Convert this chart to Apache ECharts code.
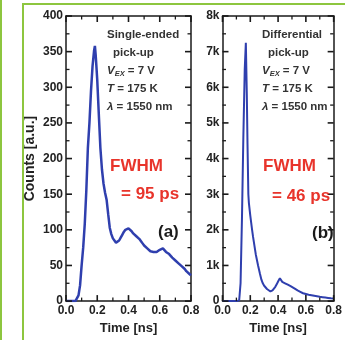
<!DOCTYPE html>
<html><head><meta charset="utf-8">
<script src="https://cdn.jsdelivr.net/npm/echarts@6/dist/echarts.min.js"></script>
<style>html,body{margin:0;padding:0;background:#fff}#c{width:345px;height:340px}</style>
</head><body><div id="c"></div>
<script>
// Panel (a): single-ended pick-up
const timeA = [0.00,0.01,0.02,0.03,0.04,0.05,0.06,0.07,0.08,0.09,0.10,0.11,0.12,0.13,0.14,0.15,0.16,0.17,0.18,0.185,0.19,0.195,0.20,0.21,0.22,0.23,0.24,0.25,0.26,0.27,0.28,0.29,0.30,0.31,0.32,0.33,0.34,0.35,0.36,0.37,0.38,0.39,0.40,0.41,0.42,0.43,0.44,0.45,0.46,0.47,0.48,0.49,0.50,0.51,0.52,0.53,0.54,0.55,0.56,0.57,0.58,0.59,0.60,0.61,0.62,0.63,0.64,0.65,0.66,0.67,0.68,0.69,0.70,0.71,0.72,0.73,0.74,0.75,0.76,0.77,0.78,0.79,0.80];
const countsA = [0,0,0,0,0,0,0,2,8,22,50,75,108,155,215,250,295,330,352,358,345,328,310,262,215,185,165,152,142,122,103,94,88,85,82,82,85,89,93,97,100,102,102,100,98,95,93,91,89,87,84,81,78,76,74,72,70,69,69,68,69,70,72,73,74,72,69,67,66,64,61,59,57,55,53,51,49,47,45,42,40,38,36];
// Panel (b): differential pick-up
const timeB = [0.00,0.05,0.10,0.11,0.12,0.13,0.14,0.15,0.16,0.168,0.175,0.18,0.186,0.19,0.20,0.213,0.22,0.23,0.24,0.256,0.27,0.28,0.29,0.30,0.31,0.32,0.33,0.345,0.36,0.37,0.38,0.39,0.40,0.413,0.42,0.43,0.44,0.45,0.46,0.47,0.48,0.49,0.50,0.52,0.54,0.56,0.58,0.60,0.62,0.64,0.66,0.68,0.70,0.72,0.74,0.76,0.78,0.80];
const countsB = [0,0,0,0,20,500,2300,4600,6500,7250,5800,4400,3000,2750,2400,2000,1800,1550,1300,1000,760,600,500,430,380,340,300,270,300,340,400,470,550,640,590,540,520,500,480,460,440,420,400,350,300,260,220,200,180,165,150,135,120,110,100,90,80,75];
// Tick values
const xTicks = [0, 0.2, 0.4, 0.6, 0.8];
const yTicksA = [0, 50, 100, 150, 200, 250, 300, 350, 400];
const yTicksB = [0, 1000, 2000, 3000, 4000, 5000, 6000, 7000, 8000];

const FONT = '"Liberation Sans", Arial, sans-serif';
const chart = echarts.init(document.getElementById('c'));
const lineCol = '#1a1a1a';
const blue = '#2f3fae';
const red = '#e8342b';
const green = '#8dc63f';

function mids(arr){ const m=[]; for(let i=0;i<arr.length-1;i++) m.push((arr[i]+arr[i+1])/2); return m; }
function tickList(xs, ys){
  const L = [];
  xs.forEach(v=>L.push({ax:'x', v:v, major:true}));
  mids(xs).forEach(v=>L.push({ax:'x', v:v, major:false}));
  ys.forEach(v=>L.push({ax:'y', v:v, major:true}));
  mids(ys).forEach(v=>L.push({ax:'y', v:v, major:false}));
  return L;
}
function tickSeries(xi, yi, xs, ys){
  const list = tickList(xs, ys);
  const xMin = xs[0], xMax = xs[xs.length-1], yMin = ys[0], yMax = ys[ys.length-1];
  return {
    type:'custom', xAxisIndex:xi, yAxisIndex:yi, silent:true, z:5, clip:false,
    data: list.map(()=>[xMin, yMin]),
    renderItem:function(params, api){
      const t = list[params.dataIndex];
      const len = t.major ? 6 : 3.5;
      const st = {stroke:lineCol, lineWidth: t.major ? 1.6 : 1.3};
      let a, b;
      if (t.ax === 'x') {
        a = api.coord([t.v, yMin]); b = api.coord([t.v, yMax]);
        return {type:'group', children:[
          {type:'line', shape:{x1:a[0], y1:a[1], x2:a[0], y2:a[1]-len}, style:st},
          {type:'line', shape:{x1:b[0], y1:b[1], x2:b[0], y2:b[1]+len}, style:st}
        ]};
      } else {
        a = api.coord([xMin, t.v]); b = api.coord([xMax, t.v]);
        return {type:'group', children:[
          {type:'line', shape:{x1:a[0], y1:a[1], x2:a[0]+len, y2:a[1]}, style:st},
          {type:'line', shape:{x1:b[0], y1:b[1], x2:b[0]-len, y2:b[1]}, style:st}
        ]};
      }
    }
  };
}

function xAx(grid, pos, labels){
  const a = {type:'value', gridIndex:grid, position:pos, min:0, max:0.8, interval:0.2,
    axisLine:{show:true, onZero:false, lineStyle:{color:lineCol, width:1.5}},
    axisTick:{show:false}, minorTick:{show:false},
    splitLine:{show:false},
    axisLabel:{show:labels, margin:4, color:'#222', fontSize:12, fontWeight:'bold', fontFamily:FONT,
      formatter:v=>v.toFixed(1)}
  };
  if (labels) { a.name = 'Time [ns]'; a.nameLocation = 'middle'; a.nameGap = 19;
    a.nameTextStyle = {color:'#222', fontSize:13, fontWeight:'bold', fontFamily:FONT}; }
  return a;
}
function yAx(grid, pos, max, interval, labels, fmt, name){
  const a = {type:'value', gridIndex:grid, position:pos, min:0, max:max, interval:interval,
    axisLine:{show:true, onZero:false, lineStyle:{color:lineCol, width:1.5}},
    axisTick:{show:false}, minorTick:{show:false},
    splitLine:{show:false},
    axisLabel:{show:labels, margin:3, color:'#222', fontSize:12, fontWeight:'bold', fontFamily:FONT}
  };
  if (fmt) a.axisLabel.formatter = fmt;
  if (name) { a.name = name; a.nameLocation = 'middle'; a.nameGap = 29;
    a.nameTextStyle = {color:'#222', fontSize:14, fontWeight:'bold', fontFamily:FONT}; }
  return a;
}

const infoStyle = {fill:'#333', fontSize:11.5, fontWeight:'bold', fontFamily:FONT};
function txt(x, y, t, extra){
  return {type:'text', x:x, y:y, z:10, style:Object.assign({text:t, textVerticalAlign:'middle', textAlign:'left'}, infoStyle, extra||{})};
}
const rich = {
  i:{fontStyle:'italic', fontWeight:'bold', fontSize:11.5, fontFamily:FONT, fill:'#333', color:'#333'},
  s:{fontStyle:'italic', fontWeight:'bold', fontSize:7.5, fontFamily:FONT, fill:'#333', color:'#333', verticalAlign:'bottom', padding:[6,0,0,0]},
  n:{fontWeight:'bold', fontSize:11.5, fontFamily:FONT, fill:'#333', color:'#333'}
};
function block(x0, title){
  return [
    txt(x0, 35, title),
    txt(x0+6, 53, 'pick-up'),
    {type:'text', x:x0, y:71, z:10, style:{text:'{i|V}{s|EX}{n| = 7 V}', rich:rich, textVerticalAlign:'middle'}},
    {type:'text', x:x0, y:89, z:10, style:{text:'{i|T}{n| = 175 K}', rich:rich, textVerticalAlign:'middle'}},
    {type:'text', x:x0, y:107, z:10, style:{text:'{i|λ}{n| = 1550 nm}', rich:rich, textVerticalAlign:'middle'}}
  ];
}
const big = {fontSize:17, fontWeight:'bold', fontFamily:FONT};

chart.setOption({
  animation:false,
  grid:[
    {left:66, top:16, width:125, height:287},
    {left:222.5, top:16, width:125, height:287}
  ],
  xAxis:[xAx(0,'bottom',true), xAx(0,'top',false), xAx(1,'bottom',true), xAx(1,'top',false)],
  yAxis:[
    yAx(0,'left',400,50,true,v=>String(v),'Counts [a.u.]'),
    yAx(0,'right',400,50,false),
    yAx(1,'left',8000,1000,true,v=>v===0?'0':(v/1000)+'k'),
    yAx(1,'right',8000,1000,false)
  ],
  series:[
    {type:'line', xAxisIndex:0, yAxisIndex:0, showSymbol:false, z:3,
      lineStyle:{color:blue, width:2.5}, data:timeA.map((t,i)=>[t,countsA[i]])},
    {type:'line', xAxisIndex:2, yAxisIndex:2, showSymbol:false, z:3,
      lineStyle:{color:blue, width:2}, data:timeB.map((t,i)=>[t,countsB[i]])},
    tickSeries(0, 0, xTicks, yTicksA),
    tickSeries(2, 2, xTicks, yTicksB)
  ],
  graphic:[
    {type:'rect', shape:{x:0, y:0, width:2, height:340}, style:{fill:green}, z:20},
    {type:'rect', shape:{x:22, y:3, width:2, height:337}, style:{fill:green}, z:20},
    {type:'rect', shape:{x:22, y:3, width:323, height:2}, style:{fill:green}, z:20},
    ...block(107, 'Single-ended'),
    ...block(262, 'Differential'),
    txt(110, 166, 'FWHM', Object.assign({fill:red}, big)),
    txt(121, 194, '= 95 ps', Object.assign({fill:red}, big)),
    txt(158, 232, '(a)', Object.assign({fill:'#1a1a1a'}, big)),
    txt(263, 166, 'FWHM', Object.assign({fill:red}, big)),
    txt(272, 196, '= 46 ps', Object.assign({fill:red}, big)),
    txt(312, 233, '(b)', Object.assign({fill:'#1a1a1a'}, big))
  ]
});
</script></body></html>
